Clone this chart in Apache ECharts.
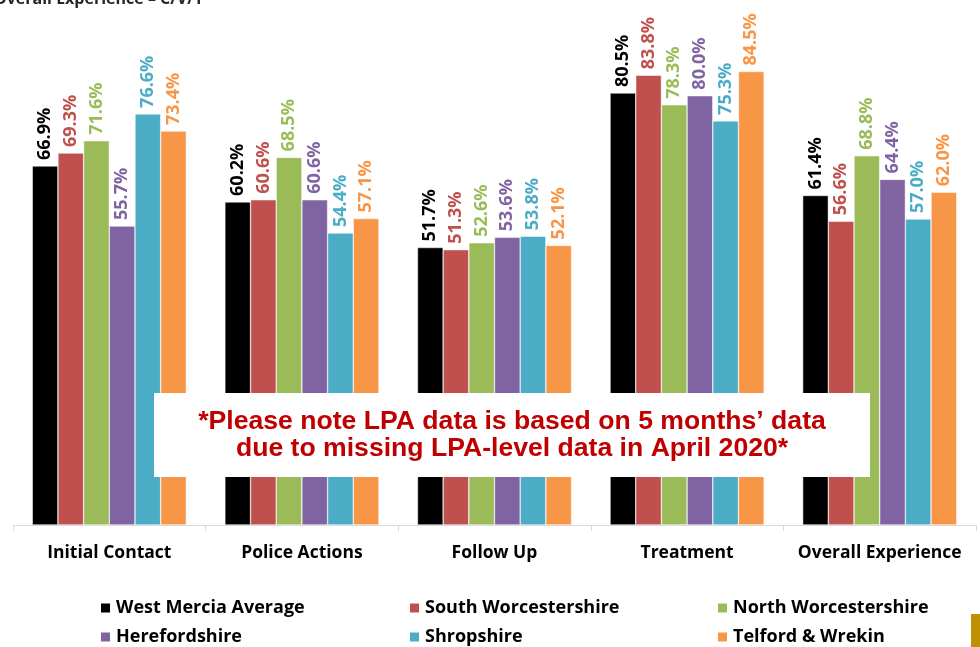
<!DOCTYPE html>
<html>
<head>
<meta charset="utf-8">
<script src="https://cdn.jsdelivr.net/npm/echarts@6/dist/echarts.min.js"></script>
<style>
  html, body { margin: 0; padding: 0; background: #fff; }
  #chart { width: 980px; height: 647px; }
</style>
</head>
<body>
<div id="chart"></div>
<script>
// categories and series values (percent)
const categories = ['Initial Contact', 'Police Actions', 'Follow Up', 'Treatment', 'Overall Experience'];
const westMercia = [66.9, 60.2, 51.7, 80.5, 61.4];
const southWorcs = [69.3, 60.6, 51.3, 83.8, 56.6];
const northWorcs = [71.6, 68.5, 52.6, 78.3, 68.8];
const herefordshire = [55.7, 60.6, 53.6, 80.0, 64.4];
const shropshire = [76.6, 54.4, 53.8, 75.3, 57.0];
const telford = [73.4, 57.1, 52.1, 84.5, 62.0];

const seriesNames = ['West Mercia Average', 'South Worcestershire', 'North Worcestershire',
  'Herefordshire', 'Shropshire', 'Telford & Wrekin'];
const seriesData = [westMercia, southWorcs, northWorcs, herefordshire, shropshire, telford];
const colors = ['#000000', '#C0504D', '#9BBB59', '#8064A2', '#4BACC6', '#F79646'];

const font = '"Open Sans", Lato, sans-serif';

let chart = echarts.init(document.getElementById('chart'));

// legend laid out as a 3 x 2 grid, one legend per item
const legendPos = [[99, 598], [408, 598], [716, 598], [99, 627], [408, 627], [716, 627]];

let option = {
  animation: false,
  color: colors,
  grid: { left: 13, right: 4, top: 42, bottom: 122 },
  legend: seriesNames.map((name, i) => ({
    left: legendPos[i][0],
    top: legendPos[i][1],
    data: [name],
    icon: 'rect',
    itemWidth: 11,
    itemHeight: 11,
    itemGap: 6,
    selectedMode: false,
    padding: 0,
    textStyle: { fontFamily: font, fontWeight: 'bold', fontSize: 18, color: '#000', lineHeight: 20 }
  })),
  xAxis: {
    type: 'category',
    data: categories,
    axisLine: { lineStyle: { color: '#D9D9D9', width: 1 } },
    axisTick: { show: true, interval: 0, length: 6, lineStyle: { color: '#D9D9D9' } },
    axisLabel: { interval: 0, margin: 19, fontFamily: font, fontWeight: 'bold', fontSize: 17.5, color: '#000' }
  },
  yAxis: {
    type: 'value',
    min: 0,
    max: 90,
    show: false,
    splitLine: { show: false }
  },
  series: seriesNames.map((name, i) => ({
    name: name,
    type: 'bar',
    data: seriesData[i],
    barGap: '0%',
    barCategoryGap: '20%',
    itemStyle: { color: colors[i], borderColor: '#fff', borderWidth: 0.5 },
    label: {
      show: true,
      position: 'top',
      rotate: 90,
      align: 'left',
      verticalAlign: 'middle',
      distance: 6,
      fontFamily: font,
      fontWeight: 'bold',
      fontSize: 18,
      color: colors[i],
      formatter: p => p.value.toFixed(1) + '%'
    }
  })),
  graphic: [
    {
      type: 'text',
      left: -6,
      top: -9,
      style: { text: 'Overall Experience – C/V/Y', fontFamily: font, fontWeight: 'bold', fontSize: 16, fill: '#262626' }
    },
    {
      type: 'rect',
      shape: { x: 154, y: 393, width: 716, height: 84 },
      style: { fill: '#fff' },
      z: 100
    },
    {
      type: 'text',
      x: 512,
      y: 435.5,
      z: 101,
      style: {
        text: '*Please note LPA data is based on 5 months\u2019 data\ndue to missing LPA-level data in April 2020*',
        fontFamily: '"Liberation Sans", Arial, sans-serif',
        fontWeight: 'bold',
        fontSize: 26.6,
        lineHeight: 27,
        fill: '#C00000',
        align: 'center',
        verticalAlign: 'middle'
      }
    },
    {
      type: 'rect',
      shape: { x: 971, y: 614, width: 9, height: 33 },
      style: { fill: '#BF9000' }
    }
  ]
};

chart.setOption(option);
</script>
</body>
</html>
